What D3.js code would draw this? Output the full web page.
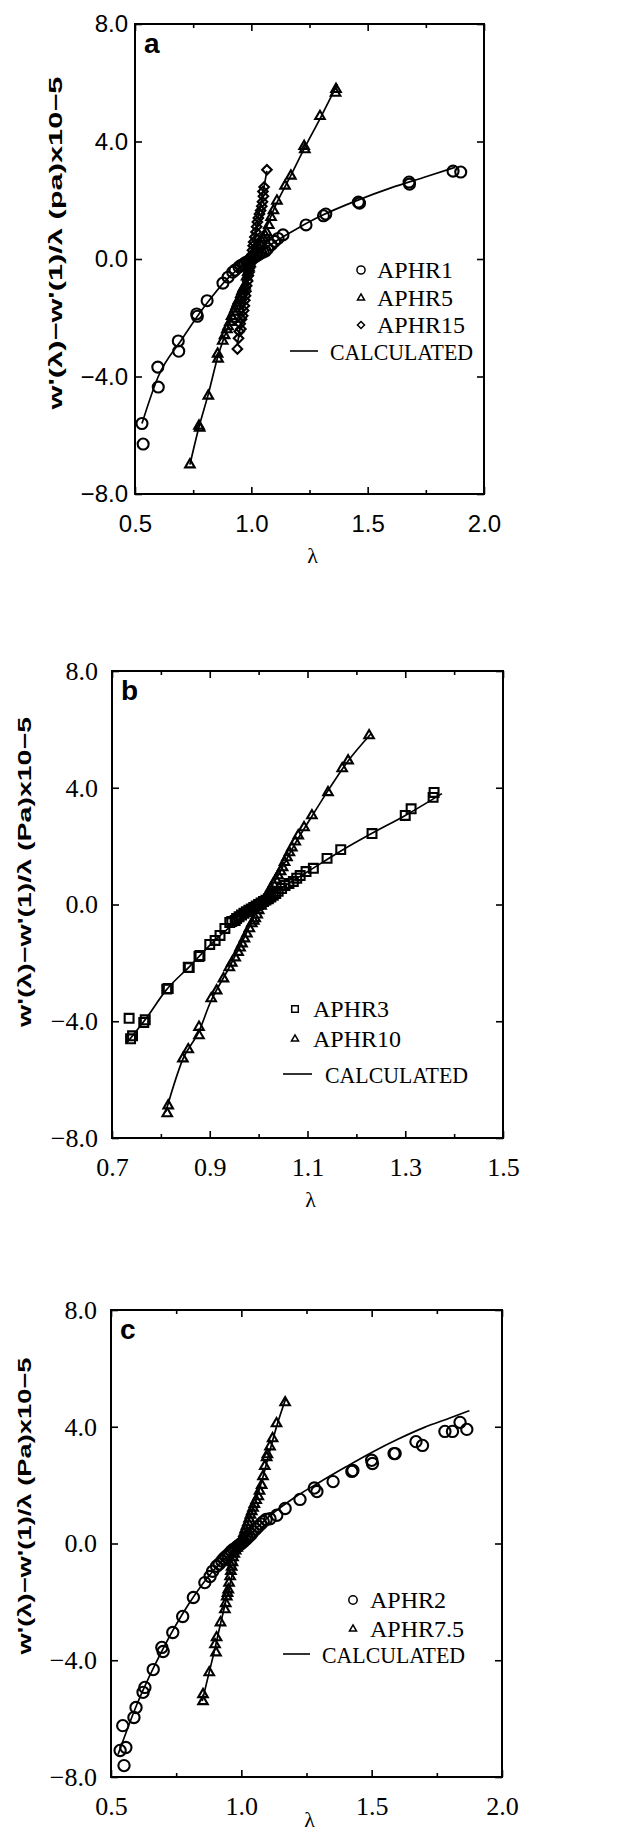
<!DOCTYPE html>
<html>
<head>
<meta charset="utf-8">
<script src="https://cdn.jsdelivr.net/npm/d3@7"></script>
<style>
  body { margin: 0; background: #fff; }
  svg { display: block; }
</style>
</head>
<body>
<svg id="chart"></svg>
<script>
// ---- data: [lambda, w'(l)-w'(1)/l  (x1e-5)] ----

// panel a
const aphr1 = [
  [0.53,-5.6],[0.535,-6.3],[0.598,-3.68],[0.60,-4.36],[0.686,-2.79],[0.688,-3.14],
  [0.765,-1.87],[0.768,-1.95],[0.81,-1.42],[0.878,-0.82],[0.90,-0.62],[0.92,-0.45],
  [0.93,-0.38],[0.947,-0.27],[0.955,-0.22],[0.965,-0.18],[0.972,-0.14],[0.98,-0.1],
  [0.988,-0.07],[0.995,-0.03],[1.01,0.05],[1.018,0.09],[1.025,0.12],[1.032,0.16],
  [1.04,0.2],[1.05,0.23],[1.06,0.27],[1.07,0.35],[1.085,0.48],[1.1,0.6],[1.115,0.70],
  [1.136,0.82],[1.235,1.16],[1.31,1.47],[1.32,1.53],[1.46,1.94],[1.465,1.9],
  [1.678,2.62],[1.68,2.55],[1.867,2.99],[1.90,2.96]
];
const aphr5 = [
  [0.736,-7.0],[0.775,-5.68],[0.778,-5.75],[0.815,-4.66],[0.855,-3.23],[0.857,-3.40],
  [0.877,-2.79],[0.885,-2.6],[0.895,-2.4],[0.9,-2.3],[0.908,-2.15],[0.915,-1.95],
  [0.92,-2.04],[0.925,-1.8],[0.93,-1.70],[0.935,-1.6],[0.94,-1.5],[0.945,-1.4],
  [0.951,-1.36],[0.955,-1.2],[0.96,-1.1],[0.965,-1.0],[0.973,-0.91],[0.98,-0.6],
  [0.985,-0.45],[0.99,-0.3],[0.995,-0.15],[1.0,0],[1.005,0.1],[1.01,0.2],[1.015,0.28],
  [1.02,0.35],[1.028,0.45],[1.035,0.55],[1.042,0.65],[1.05,0.72],[1.058,0.82],
  [1.065,0.91],[1.075,1.15],[1.085,1.42],[1.095,1.65],[1.11,1.98],[1.145,2.49],
  [1.17,2.83],[1.227,3.84],[1.23,3.73],[1.295,4.86],[1.362,5.65],[1.364,5.78]
];
const aphr15 = [
  [0.94,-3.06],[0.945,-2.7],[0.948,-2.47],[0.952,-2.2],[0.955,-2.38],[0.958,-2.05],
  [0.963,-1.93],[0.967,-1.75],[0.97,-1.59],[0.972,-1.4],[0.975,-1.25],[0.977,-1.1],
  [0.98,-0.91],[0.984,-0.75],[0.987,-0.57],[0.99,-0.45],[0.993,-0.3],[0.997,-0.15],
  [1.0,0],[1.003,0.15],[1.005,0.3],[1.008,0.45],[1.01,0.58],[1.015,0.75],[1.02,0.92],
  [1.023,1.1],[1.026,1.26],[1.03,1.4],[1.035,1.53],[1.04,1.65],[1.045,1.80],
  [1.048,1.95],[1.052,2.14],[1.05,2.3],[1.055,2.45],[1.067,3.04]
];
const aphr1Calc = [[0.53,-5.6],[0.6,-4.0],[0.7,-2.75],[0.8,-1.6],[0.9,-0.65],[1.0,0],[1.1,0.58],
  [1.2,1.05],[1.3,1.47],[1.45,1.98],[1.6,2.42],[1.75,2.8],[1.875,3.12]];
const aphr5Calc = [[0.736,-7.0],[0.775,-5.72],[0.815,-4.6],[0.855,-3.35],[0.9,-2.3],[0.95,-1.25],
  [1.0,0],[1.05,0.8],[1.1,1.75],[1.17,2.85],[1.23,3.8],[1.30,4.85],[1.37,5.95]];
const aphr15Calc = [[0.94,-2.9],[0.97,-1.5],[1.0,0],[1.03,1.4],[1.067,3.0]];

// panel b
const aphr3 = [
  [0.735,-3.9],[0.738,-4.6],[0.742,-4.5],[0.765,-4.04],[0.768,-3.95],[0.812,-2.9],
  [0.815,-2.88],[0.856,-2.15],[0.858,-2.16],[0.878,-1.78],[0.88,-1.75],[0.9,-1.37],
  [0.911,-1.23],[0.921,-1.06],[0.931,-0.82],[0.941,-0.62],[0.945,-0.58],[0.952,-0.55],
  [0.955,-0.48],[0.96,-0.42],[0.965,-0.36],[0.97,-0.3],[0.975,-0.25],[0.98,-0.2],
  [0.985,-0.15],[0.99,-0.1],[0.995,-0.05],[1.0,0],[1.005,0.05],[1.01,0.1],[1.015,0.15],
  [1.02,0.2],[1.025,0.26],[1.03,0.32],[1.035,0.38],[1.04,0.45],[1.047,0.55],[1.054,0.65],
  [1.062,0.72],[1.071,0.79],[1.078,0.9],[1.085,0.99],[1.097,1.13],[1.112,1.24],
  [1.14,1.58],[1.168,1.88],[1.232,2.43],[1.30,3.05],[1.312,3.28],[1.357,3.67],[1.359,3.84]
];
const aphr10 = [
  [0.813,-7.16],[0.815,-6.89],[0.845,-5.28],[0.856,-4.97],[0.878,-4.49],[0.878,-4.2],
  [0.903,-3.22],[0.914,-2.95],[0.928,-2.54],[0.94,-2.16],[0.945,-2.0],[0.952,-1.82],
  [0.958,-1.63],[0.962,-1.48],[0.966,-1.34],[0.971,-1.17],[0.976,-1.0],[0.981,-0.82],
  [0.986,-0.65],[0.99,-0.56],[0.993,-0.48],[0.997,-0.35],[1.0,-0.2],[1.005,-0.05],
  [1.01,0.1],[1.015,0.25],[1.02,0.4],[1.025,0.55],[1.03,0.7],[1.035,0.85],[1.04,0.99],
  [1.045,1.13],[1.049,1.27],[1.053,1.45],[1.058,1.61],[1.063,1.78],[1.068,1.95],
  [1.075,2.15],[1.081,2.36],[1.093,2.64],[1.109,3.05],[1.142,3.84],[1.171,4.66],
  [1.183,4.93],[1.226,5.79]
];
const aphr3Calc = [[0.73,-4.75],[0.77,-3.9],[0.81,-2.95],[0.86,-2.1],[0.9,-1.4],[0.95,-0.65],
  [1.0,0],[1.05,0.6],[1.1,1.12],[1.17,1.85],[1.23,2.42],[1.3,3.05],[1.375,3.8]];
const aphr10Calc = [[0.81,-7.1],[0.845,-5.3],[0.878,-4.35],[0.9,-3.4],[0.94,-2.15],[0.97,-1.15],
  [1.0,-0.1],[1.04,1.0],[1.07,1.95],[1.11,3.05],[1.14,3.85],[1.18,4.85],[1.23,5.85]];

// panel c
const aphr2 = [
  [0.535,-7.09],[0.545,-6.24],[0.55,-7.61],[0.557,-6.99],[0.588,-5.96],[0.596,-5.62],
  [0.623,-5.1],[0.63,-4.93],[0.662,-4.32],[0.695,-3.56],[0.70,-3.7],[0.737,-3.05],
  [0.775,-2.5],[0.816,-1.85],[0.86,-1.34],[0.88,-1.13],[0.89,-0.95],[0.905,-0.78],
  [0.915,-0.7],[0.925,-0.6],[0.932,-0.52],[0.94,-0.45],[0.948,-0.39],[0.955,-0.33],
  [0.962,-0.26],[0.97,-0.2],[0.978,-0.15],[0.985,-0.1],[0.992,-0.05],[1.0,0],
  [1.008,0.06],[1.015,0.12],[1.022,0.18],[1.03,0.25],[1.038,0.32],[1.045,0.4],
  [1.055,0.49],[1.065,0.58],[1.075,0.67],[1.084,0.75],[1.095,0.82],[1.11,0.85],
  [1.136,0.97],[1.168,1.2],[1.225,1.51],[1.28,1.9],[1.29,1.78],[1.352,2.12],[1.424,2.47],
  [1.428,2.5],[1.50,2.85],[1.503,2.74],[1.586,3.08],[1.59,3.08],[1.67,3.49],[1.695,3.36],
  [1.781,3.84],[1.81,3.84],[1.839,4.15],[1.865,3.91]
];
const aphr75 = [
  [0.853,-5.41],[0.853,-5.17],[0.877,-4.42],[0.899,-3.46],[0.903,-3.74],[0.905,-3.22],
  [0.92,-2.71],[0.937,-2.26],[0.94,-2.05],[0.944,-1.82],[0.947,-1.7],[0.95,-1.58],
  [0.953,-1.35],[0.957,-1.13],[0.96,-0.95],[0.963,-0.8],[0.966,-0.65],[0.968,-0.48],
  [0.973,-0.36],[0.978,-0.25],[0.984,-0.15],[0.99,-0.05],[0.995,0.02],[1.0,0.1],
  [1.005,0.22],[1.01,0.35],[1.015,0.48],[1.02,0.6],[1.025,0.72],[1.03,0.85],[1.035,0.98],
  [1.04,1.1],[1.045,1.22],[1.05,1.35],[1.057,1.48],[1.065,1.61],[1.07,1.8],[1.078,2.0],
  [1.083,2.3],[1.09,2.65],[1.097,2.95],[1.1,3.05],[1.11,3.32],[1.12,3.6],[1.135,4.11],
  [1.168,4.83]
];
const aphr2Calc = [[0.527,-7.23],[0.6,-5.5],[0.7,-3.6],[0.8,-2.05],[0.9,-0.85],[1.0,0],[1.1,0.88],
  [1.2,1.55],[1.3,2.1],[1.4,2.62],[1.5,3.12],[1.6,3.57],[1.7,3.97],[1.8,4.3],[1.875,4.55]];
const aphr75Calc = [[0.85,-5.4],[0.877,-4.4],[0.9,-3.55],[0.92,-2.75],[0.94,-2.0],[0.97,-0.9],
  [1.0,0.05],[1.03,0.85],[1.06,1.6],[1.085,2.35],[1.11,3.2],[1.135,4.0],[1.17,4.95]];

// axes
const yTicks = [-8, -4, 0, 4, 8];
const xTicksA = [0.5, 1.0, 1.5, 2.0], xMinorA = [0.75, 1.25, 1.75];
const xTicksB = [0.7, 0.9, 1.1, 1.3, 1.5], xMinorB = [0.8, 1.0, 1.2, 1.4];

const symCircle = d3.symbolCircle;
const symTriangle = d3.symbolTriangle2 || d3.symbolTriangle;
const symDiamond = d3.symbolDiamond2 || d3.symbolDiamond;
const symSquare = d3.symbolSquare2 || d3.symbolSquare;

const W = 619, H = 1836;
const svg = d3.select("#chart").attr("width", W).attr("height", H);

const panels = [
  {
    letter: "a", left: 135, right: 484, top: 24, bottom: 494,
    xDomain: [0.5, 2.0], xTicks: xTicksA, xMinor: xMinorA,
    tickFont: "'Liberation Sans', Arial, sans-serif", tickSize: 24, yLabelGap: 7,
    yTitle: "w'(λ)−w'(1)/λ (pa)x10−5", yTitleX: 62, yTitleY: 243, yTitleLen: 333,
    lambdaGap: 69,
    calc: [aphr1Calc, aphr5Calc, aphr15Calc],
    series: [
      { name: "APHR1", values: aphr1, symbol: symCircle, size: 95 },
      { name: "APHR5", values: aphr5, symbol: symTriangle, size: 65 },
      { name: "APHR15", values: aphr15, symbol: symDiamond, size: 58 }
    ],
    legend: { symX: 361, textX: 377, rows: [278, 306, 333, 360], lineX: [290, 318], calcX: 330 }
  },
  {
    letter: "b", left: 112, right: 503, top: 671, bottom: 1138,
    xDomain: [0.7, 1.5], xTicks: xTicksB, xMinor: xMinorB,
    tickFont: "'Liberation Serif', 'Times New Roman', serif", tickSize: 26, yLabelGap: 14,
    yTitle: "w'(λ)−w'(1)/λ (Pa)x10−5", yTitleX: 31, yTitleY: 872, yTitleLen: 310,
    lambdaGap: 69,
    calc: [aphr3Calc, aphr10Calc],
    series: [
      { name: "APHR3", values: aphr3, symbol: symSquare, size: 100 },
      { name: "APHR10", values: aphr10, symbol: symTriangle, size: 65 }
    ],
    legend: { symX: 295, textX: 313, rows: [1017, 1047, 1083], lineX: [283, 312], calcX: 325 }
  },
  {
    letter: "c", left: 111, right: 502, top: 1310, bottom: 1777,
    xDomain: [0.5, 2.0], xTicks: xTicksA, xMinor: xMinorA,
    tickFont: "'Liberation Serif', 'Times New Roman', serif", tickSize: 26, yLabelGap: 14,
    yTitle: "w'(λ)−w'(1)/λ (Pa)x10−5", yTitleX: 31, yTitleY: 1506, yTitleLen: 297,
    lambdaGap: 50,
    calc: [aphr2Calc, aphr75Calc],
    series: [
      { name: "APHR2", values: aphr2, symbol: symCircle, size: 100 },
      { name: "APHR7.5", values: aphr75, symbol: symTriangle, size: 65 }
    ],
    legend: { symX: 353, textX: 370, rows: [1608, 1637, 1663], lineX: [283, 310], calcX: 322 }
  }
];

const fmt = d => (d < 0 ? "−" : "") + d3.format(".1f")(Math.abs(d));

panels.forEach(p => drawPanel(p));

function drawPanel(p) {
  const g = svg.append("g");

  const x = d3.scaleLinear().domain(p.xDomain).range([p.left, p.right]);
  const y = d3.scaleLinear().domain([-8, 8]).range([p.bottom, p.top]);

  // ticks (all pointing inward)
  const bottomAxis = g.append("g")
    .attr("transform", `translate(0,${p.bottom})`)
    .call(d3.axisBottom(x).tickValues(p.xTicks).tickSize(-7).tickFormat(d3.format(".1f")));
  bottomAxis.selectAll("text")
    .attr("y", 38).attr("dy", 0)
    .style("font-family", p.tickFont).style("font-size", p.tickSize + "px");
  g.append("g").attr("transform", `translate(0,${p.bottom})`)
    .call(d3.axisBottom(x).tickValues(p.xMinor).tickSize(-4).tickFormat(""));
  g.append("g").attr("transform", `translate(0,${p.top})`)
    .call(d3.axisTop(x).tickValues(p.xTicks).tickSize(-7).tickFormat(""));
  g.append("g").attr("transform", `translate(0,${p.top})`)
    .call(d3.axisTop(x).tickValues(p.xMinor).tickSize(-4).tickFormat(""));

  const leftAxis = g.append("g")
    .attr("transform", `translate(${p.left},0)`)
    .call(d3.axisLeft(y).tickValues(yTicks).tickSize(-7).tickFormat(fmt));
  leftAxis.selectAll("text")
    .attr("x", -p.yLabelGap)
    .style("font-family", p.tickFont).style("font-size", p.tickSize + "px");
  g.append("g").attr("transform", `translate(${p.right},0)`)
    .call(d3.axisRight(y).tickValues(yTicks).tickSize(-7).tickFormat(""));

  g.selectAll(".domain").remove();
  g.selectAll(".tick line").attr("stroke", "#000").attr("stroke-width", 1.6);
  g.selectAll(".tick text").attr("fill", "#000");

  // frame
  g.append("rect")
    .attr("x", p.left).attr("y", p.top)
    .attr("width", p.right - p.left).attr("height", p.bottom - p.top)
    .attr("fill", "none").attr("stroke", "#000").attr("stroke-width", 2);

  // panel letter
  g.append("text")
    .attr("x", p.left + 9).attr("y", p.top + 29)
    .style("font-family", "'Liberation Sans', Arial, sans-serif")
    .style("font-weight", "bold").style("font-size", "28px")
    .text(p.letter);

  // axis titles
  g.append("text")
    .attr("x", (p.left + p.right) / 2 + 3).attr("y", p.bottom + p.lambdaGap)
    .attr("text-anchor", "middle")
    .style("font-family", "'Liberation Serif', serif").style("font-size", "22px")
    .text("λ");

  g.append("text")
    .attr("transform", `translate(${p.yTitleX},${p.yTitleY}) rotate(-90)`)
    .attr("text-anchor", "middle")
    .attr("textLength", p.yTitleLen).attr("lengthAdjust", "spacingAndGlyphs")
    .style("font-family", "'Liberation Sans', Arial, sans-serif")
    .style("font-weight", "bold").style("font-size", "19px")
    .text(p.yTitle);

  // calculated curves
  const line = d3.line()
    .x(d => x(d[0]))
    .y(d => y(d[1]))
    .curve(d3.curveMonotoneX);

  p.calc.forEach(c => {
    g.append("path")
      .datum(c)
      .attr("fill", "none")
      .attr("stroke", "#000")
      .attr("stroke-width", 1.7)
      .attr("d", line);
  });

  // measured points
  p.series.forEach(s => {
    g.selectAll(null)
      .data(s.values)
      .enter().append("path")
      .attr("transform", d => `translate(${x(d[0])},${y(d[1])})`)
      .attr("d", d3.symbol(s.symbol, s.size))
      .attr("fill", "none")
      .attr("stroke", "#000")
      .attr("stroke-width", 2.1);
  });

  // legend
  const lg = g.append("g")
    .style("font-family", "'Liberation Serif', 'Times New Roman', serif")
    .style("font-size", "24px");
  p.series.forEach((s, i) => {
    const row = p.legend.rows[i];
    lg.append("path")
      .attr("transform", `translate(${p.legend.symX},${row - 8})`)
      .attr("d", d3.symbol(s.symbol, s.size * 0.55))
      .attr("fill", "none").attr("stroke", "#000").attr("stroke-width", 1.5);
    lg.append("text").attr("x", p.legend.textX).attr("y", row).text(s.name);
  });
  const calcRow = p.legend.rows[p.series.length];
  lg.append("line")
    .attr("x1", p.legend.lineX[0]).attr("x2", p.legend.lineX[1])
    .attr("y1", calcRow - 9).attr("y2", calcRow - 9)
    .attr("stroke", "#000").attr("stroke-width", 1.6);
  lg.append("text").attr("x", p.legend.calcX).attr("y", calcRow)
    .attr("textLength", 143).attr("lengthAdjust", "spacingAndGlyphs")
    .text("CALCULATED");
}
</script>
</body>
</html>
